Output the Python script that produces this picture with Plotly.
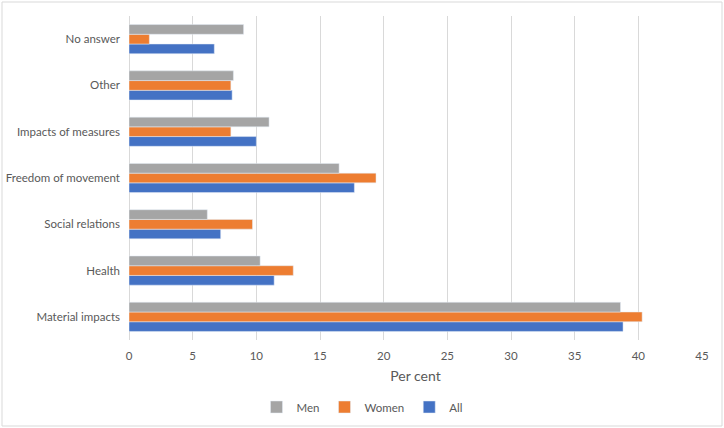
import plotly.graph_objects as go

categories = ["Material impacts", "Health", "Social relations", "Freedom of movement",
              "Impacts of measures", "Other", "No answer"]
all_vals = [38.8, 11.4, 7.2, 17.7, 10.0, 8.1, 6.7]
women_vals = [40.3, 12.9, 9.7, 19.4, 8.0, 8.0, 1.6]
men_vals = [38.6, 10.3, 6.15, 16.5, 11.0, 8.2, 9.0]
x_ticks = [0, 5, 10, 15, 20, 25, 30, 35, 40, 45]

W, H = 724, 428
ML, MR, MT, MB = 129, 22, 16, 88

fig = go.Figure()
fig.add_trace(go.Bar(y=categories, x=all_vals, name="All", orientation="h", marker_color="#4472C4"))
fig.add_trace(go.Bar(y=categories, x=women_vals, name="Women", orientation="h", marker_color="#ED7D31"))
fig.add_trace(go.Bar(y=categories, x=men_vals, name="Men", orientation="h", marker_color="#A5A5A5"))

pw = W - ML - MR
ph = H - MT - MB
fig.add_shape(type="rect", xref="paper", yref="paper",
              x0=(2 - ML) / pw, x1=(722 - ML) / pw,
              y0=-(426 - MT - ph) / ph, y1=1 + (MT - 2) / ph,
              line=dict(color="#D9D9D9", width=1), layer="below")

fig.update_layout(
    width=W, height=H,
    margin=dict(l=ML, r=MR, t=MT, b=MB),
    paper_bgcolor="white", plot_bgcolor="white",
    barmode="group", bargap=0.37, bargroupgap=0,
    font=dict(family="Lato, Open Sans, sans-serif", size=11.5, color="#595959"),
    xaxis=dict(range=[0, 45], tickvals=x_ticks, showgrid=True, gridcolor="#D9D9D9",
               zeroline=True, zerolinecolor="#D9D9D9", zerolinewidth=1,
               title=dict(text="Per cent", standoff=10), ticks="", automargin=False,
               ticklabelstandoff=7),
    yaxis=dict(showgrid=False, ticks="", automargin=False, ticklabelstandoff=8),
    legend=dict(orientation="h", traceorder="reversed", xref="container", yref="container",
                x=0.5, xanchor="center", y=1 - 407 / H, yanchor="middle",
                font=dict(size=11.5, color="#595959"), itemwidth=30, tracegroupgap=0),
    showlegend=True,
)
fig.write_html("out.html", config={"displayModeBar": False},
               post_script="document.body.style.margin='0';")
